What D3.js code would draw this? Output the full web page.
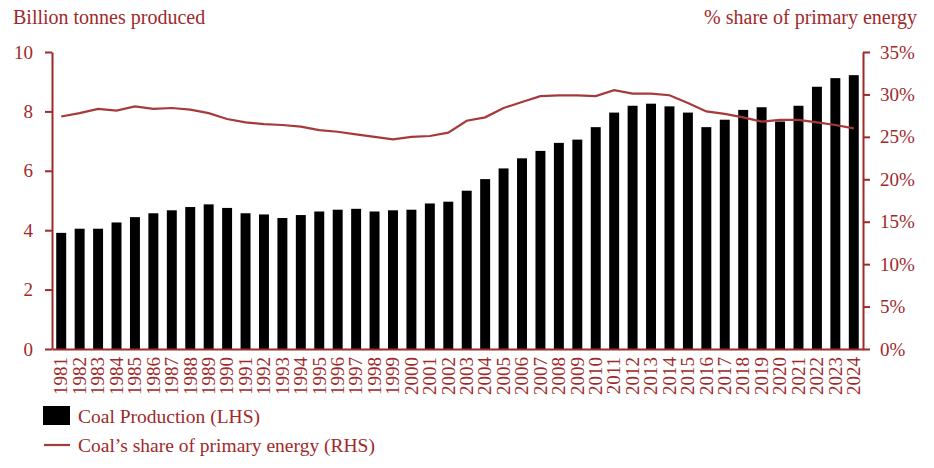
<!DOCTYPE html>
<html>
<head>
<meta charset="utf-8">
<script src="https://cdn.jsdelivr.net/npm/d3@7"></script>
<style>
  body { margin: 0; background: #fff; }
  text { font-family: "Liberation Serif", "DejaVu Serif", serif; fill: #9e2a2b; }
</style>
</head>
<body>
<script>
// data
var years = d3.range(1981, 2025).map(String);
var coalProduction = [3.91, 4.05, 4.05, 4.26, 4.44, 4.57, 4.67, 4.78, 4.87, 4.75,
    4.57, 4.53, 4.41, 4.51, 4.63, 4.69, 4.72, 4.63, 4.67, 4.69,
    4.90, 4.96, 5.33, 5.72, 6.08, 6.42, 6.67, 6.94, 7.05, 7.47,
    7.96, 8.19, 8.26, 8.17, 7.96, 7.47, 7.72, 8.05, 8.14, 7.66,
    8.19, 8.83, 9.12, 9.22];
var coalShare = [27.4, 27.8, 28.3, 28.1, 28.6, 28.3, 28.4, 28.2, 27.8, 27.1,
    26.7, 26.5, 26.4, 26.2, 25.8, 25.6, 25.3, 25.0, 24.7, 25.0,
    25.1, 25.5, 26.9, 27.3, 28.4, 29.1, 29.8, 29.9, 29.9, 29.8,
    30.5, 30.1, 30.1, 29.9, 29.0, 28.0, 27.7, 27.3, 26.8, 27.0,
    27.0, 26.7, 26.4, 26.0];
var leftTicks = [0, 2, 4, 6, 8, 10];
var rightTicks = [0, 5, 10, 15, 20, 25, 30, 35];

var red = "#9e2a2b";
var lineRed = "#a63a3a";

var svgWidth = 934, svgHeight = 468;
var margin = { top: 52, right: 71, bottom: 119, left: 52 };
var width = svgWidth - margin.left - margin.right;
var height = svgHeight - margin.top - margin.bottom;

var svg = d3.select("body").append("svg")
    .attr("width", svgWidth)
    .attr("height", svgHeight);

var chartGroup = svg.append("g")
    .attr("transform", `translate(${margin.left}, ${margin.top})`);

var xScale = d3.scaleBand().domain(years).range([0, width]).paddingInner(0.46).paddingOuter(0.23);
var yLeft = d3.scaleLinear().domain([0, 10]).range([height, 0]);
var yRight = d3.scaleLinear().domain([0, 35]).range([height, 0]);

// bars
chartGroup.selectAll(".bar")
    .data(coalProduction)
    .enter()
    .append("rect")
    .attr("class", "bar")
    .attr("x", (d, i) => xScale(years[i]))
    .attr("y", d => yLeft(d))
    .attr("width", xScale.bandwidth())
    .attr("height", d => height - yLeft(d))
    .attr("fill", "#000");

// line
var line = d3.line()
    .x((d, i) => xScale(years[i]) + xScale.bandwidth() / 2)
    .y(d => yRight(d));

chartGroup.append("path")
    .datum(coalShare)
    .attr("d", line)
    .attr("fill", "none")
    .attr("stroke", lineRed)
    .attr("stroke-width", 2.2);

// axes
var leftAxis = d3.axisLeft(yLeft).tickValues(leftTicks).tickSize(7).tickPadding(12).tickSizeOuter(0);
var rightAxis = d3.axisRight(yRight).tickValues(rightTicks).tickSize(7).tickPadding(10)
    .tickFormat(d => d + "%").tickSizeOuter(0);
var xAxis = d3.axisBottom(xScale).tickSize(0).tickSizeOuter(0);

var gl = chartGroup.append("g").call(leftAxis);
var gr = chartGroup.append("g").attr("transform", `translate(${width}, 0)`).call(rightAxis);
var gx = chartGroup.append("g").attr("transform", `translate(0, ${height})`).call(xAxis);

[gl, gr, gx].forEach(function (g) {
    g.selectAll("path, line").attr("stroke", red).attr("stroke-width", 2);
    g.selectAll("text").attr("fill", red).style("font-family", "Liberation Serif");
});
gl.selectAll("text").attr("font-size", "19px");
gr.selectAll("text").attr("font-size", "19px");

gx.selectAll("text")
    .attr("font-size", "19px")
    .attr("transform", "rotate(-90)")
    .attr("text-anchor", "end")
    .attr("dx", "-8")
    .attr("dy", "0.33em")
    .attr("x", 0)
    .attr("y", 0);

// axis titles
svg.append("text")
    .attr("x", 13)
    .attr("y", 24)
    .attr("font-size", "20px")
    .text("Billion tonnes produced");

svg.append("text")
    .attr("x", 917)
    .attr("y", 24)
    .attr("text-anchor", "end")
    .attr("font-size", "20px")
    .text("% share of primary energy");

// legend
var legend = svg.append("g");
legend.append("rect")
    .attr("x", 43).attr("y", 406).attr("width", 27).attr("height", 19)
    .attr("fill", "#000");
legend.append("text")
    .attr("x", 78).attr("y", 416).attr("dy", "0.35em")
    .attr("font-size", "19.5px")
    .text("Coal Production (LHS)");
legend.append("line")
    .attr("x1", 44).attr("x2", 70).attr("y1", 445).attr("y2", 445)
    .attr("stroke", lineRed).attr("stroke-width", 2.2);
legend.append("text")
    .attr("x", 78).attr("y", 445).attr("dy", "0.35em")
    .attr("font-size", "19.5px")
    .text("Coal\u2019s share of primary energy (RHS)");
</script>
</body>
</html>
